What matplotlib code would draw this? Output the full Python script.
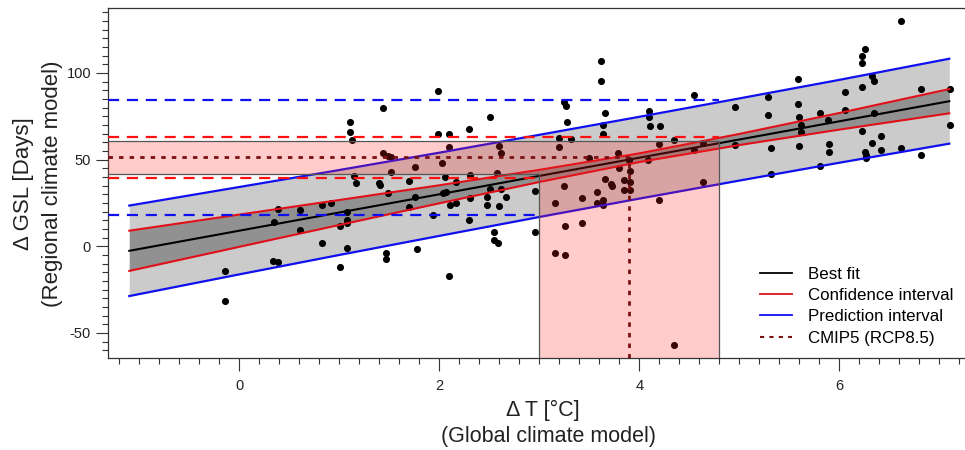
import numpy as np
import matplotlib.pyplot as plt
from matplotlib.lines import Line2D
from matplotlib.ticker import MultipleLocator

plt.rcParams['font.family'] = ['Liberation Sans', 'DejaVu Sans']
plt.rcParams['axes.unicode_minus'] = False

# ----------------------------
# Model runs: global warming vs. change in growing season length
# ----------------------------
dT = [-0.14, -0.14, 0.35, 0.39, 0.34, 0.39, 0.61, 0.61, 0.83, 0.83,
      0.92, 1.01, 1.01, 1.08, 1.08, 1.08, 1.08, 1.11, 1.11, 1.13,
      1.15, 1.17, 1.40, 1.41, 1.44, 1.44, 1.49, 1.52, 1.52, 1.49,
      1.47, 1.47, 1.70, 1.70, 1.76, 1.76, 1.78, 1.94, 1.99, 1.99,
      2.10, 2.10, 2.03, 2.06, 2.04, 2.07, 2.11, 2.17, 2.17, 2.10,
      2.30, 2.31, 2.31, 2.30, 2.48, 2.48, 2.51, 2.51, 2.55, 2.55,
      2.59, 2.58, 2.60, 2.62, 2.60, 2.62, 2.67, 2.96, 2.96, 3.16,
      3.16, 3.20, 3.20, 3.25, 3.27, 3.28, 3.32, 3.25, 3.26, 3.26,
      3.43, 3.43, 3.50, 3.58, 3.58, 3.64, 3.64, 3.62, 3.62, 3.66,
      3.64, 3.64, 3.66, 3.72, 3.73, 3.79, 3.80, 3.85, 3.85, 3.91,
      3.91, 3.91, 3.90, 4.10, 4.10, 4.11, 4.21, 4.20, 4.09, 4.20,
      4.35, 4.35, 4.55, 4.55, 4.64, 4.64, 4.96, 4.96, 5.29, 5.29,
      5.32, 5.32, 5.59, 5.59, 5.60, 5.62, 5.62, 5.60, 5.81, 5.81,
      5.89, 5.90, 5.90, 6.06, 6.06, 6.23, 6.23, 6.23, 6.26, 6.33,
      6.35, 6.35, 6.23, 6.42, 6.33, 6.42, 6.26, 6.27, 6.27, 6.62,
      6.62, 6.82, 6.82, 7.11, 7.11]
dGSL = [-14.1, -31.4, 13.8, 21.8, -8.2, -9.2, 20.8, 9.5, 24.1, 1.8,
        25.2, 11.7, -12.1, 19.5, 15.2, 13.4, -1.0, 71.6, 65.8, 61.5,
        40.6, 36.6, 36.5, 35.6, 79.8, 53.8, 52.3, 51.7, 42.7, 30.6,
        -4.0, -7.4, 37.7, 22.9, 45.8, 28.6, -1.7, 18.1, 89.8, 64.8,
        64.8, 57.3, 47.8, 39.8, 30.9, 31.5, 24.1, 24.8, 37.1, -17.3,
        67.6, 41.0, 27.7, 14.9, 28.2, 23.8, 74.8, 32.9, 8.1, 3.8,
        1.7, 42.1, 57.7, 53.7, 23.1, 32.9, 28.6, 31.7, 8.0, 25.0,
        -4.0, 57.2, 62.6, 83.2, 81.2, 71.9, 61.8, 34.8, 11.8, -5.1,
        27.9, 13.6, 51.1, 31.5, 25.2, 26.7, 24.1, 107.0, 95.6, 76.9,
        69.7, 64.6, 39.0, 35.9, 34.5, 53.8, 45.3, 38.0, 32.7, 32.5,
        43.6, 37.1, 49.8, 78.2, 74.8, 69.6, 69.6, 58.9, 49.8, 26.7,
        61.3, -57.2, 87.1, 55.6, 37.3, 59.4, 80.6, 58.5, 85.9, 75.8,
        56.7, 41.7, 96.5, 81.9, 74.8, 70.0, 65.7, 58.0, 76.9, 46.5,
        72.9, 58.9, 54.6, 89.0, 78.8, 91.7, 105.9, 109.8, 113.7, 98.3,
        95.6, 76.7, 66.7, 63.6, 59.8, 55.7, 54.3, 52.4, 50.8, 129.9,
        56.9, 90.8, 52.8, 90.8, 69.8]

# regression curves sampled along the warming axis
x_fit = [-1.1, 0, 1, 2, 3, 4, 5, 6, 7.1]
best_fit = [-2.6, 9.0, 19.5, 30.0, 40.6, 51.1, 61.6, 72.1, 83.7]
conf_hi = [9.0, 18.3, 26.7, 35.2, 44.1, 53.6, 64.8, 76.9, 90.7]
conf_lo = [-14.2, -0.3, 12.3, 24.8, 37.1, 48.6, 58.4, 67.3, 76.7]
pred_hi = [23.5, 34.2, 44.0, 54.0, 64.3, 74.7, 85.3, 96.0, 108.2]
pred_lo = [-28.7, -16.2, -5.0, 6.0, 16.9, 27.5, 37.9, 48.2, 59.2]

# CMIP5 RCP8.5 warming range and its projection onto GSL
cmip_dT = [3.0, 4.8]
cmip_dT_median = 3.9
gsl_range = [41.9, 60.6]
gsl_median = 51.5
conf_levels = [39.4, 63.2]
pred_levels = [18.2, 84.4]

XMIN, XMAX = -1.316, 7.257
YMIN, YMAX = -64.6, 137.3

RED = "#e0101a"
BLUE = "#1010ee"
DARKRED = "#7a1010"

fig = plt.figure(figsize=(9.65, 4.5), dpi=100)
ax = fig.add_axes([0.1116, 0.2038, 1 - 0.1116, 0.9816 - 0.2038])

# prediction and confidence bands
ax.fill_between(x_fit, pred_lo, pred_hi, color="#cbcbcb", lw=0, zorder=1)
ax.fill_between(x_fit, conf_lo, conf_hi, color="#919191", lw=0, zorder=1.5)

ax.scatter(dT, dGSL, s=26, color="black", lw=0, zorder=3)

ax.plot(x_fit, best_fit, color="black", lw=1.5, zorder=4)
ax.plot(x_fit, conf_hi, color=RED, lw=1.5, zorder=4)
ax.plot(x_fit, conf_lo, color=RED, lw=1.5, zorder=4)
ax.plot(x_fit, pred_hi, color=BLUE, lw=1.6, zorder=4)
ax.plot(x_fit, pred_lo, color=BLUE, lw=1.6, zorder=4)

# horizontal read-off lines
dash = (0, (5, 3.5))
ax.plot([XMIN, cmip_dT[1]], [pred_levels[1]] * 2, color=BLUE, lw=1.6, ls=dash, zorder=4)
ax.plot([XMIN, cmip_dT[0]], [pred_levels[0]] * 2, color=BLUE, lw=1.6, ls=dash, zorder=4)
ax.plot([XMIN, cmip_dT[1]], [conf_levels[1]] * 2, color="#ff1010", lw=1.6, ls=dash, zorder=4)
ax.plot([XMIN, cmip_dT[0]], [conf_levels[0]] * 2, color="#ff1010", lw=1.6, ls=dash, zorder=4)

# CMIP5 shading: horizontal GSL band joined to vertical warming band
shade_x = [XMIN, cmip_dT[1], cmip_dT[1], cmip_dT[0], cmip_dT[0], XMIN]
shade_y = [gsl_range[1], gsl_range[1], YMIN, YMIN, gsl_range[0], gsl_range[0]]
ax.fill(shade_x, shade_y, facecolor=(1.0, 0.12, 0.12, 0.23), edgecolor="none", zorder=5)
ax.plot(shade_x[:3], shade_y[:3], color="#555555", lw=0.9, zorder=6)
ax.plot(shade_x[3:], shade_y[3:], color="#555555", lw=0.9, zorder=6)

dot = (0, (1.6, 2.2))
ax.plot([XMIN, cmip_dT_median], [gsl_median] * 2, color=DARKRED, lw=2, ls=dot, zorder=6)
ax.plot([cmip_dT_median] * 2, [YMIN, gsl_median], color=DARKRED, lw=2, ls=dot, zorder=6)

ax.set_xlim(XMIN, XMAX)
ax.set_ylim(YMIN, YMAX)
ax.xaxis.set_major_locator(MultipleLocator(2))
ax.xaxis.set_minor_locator(MultipleLocator(0.2))
ax.yaxis.set_major_locator(MultipleLocator(50))
ax.yaxis.set_minor_locator(MultipleLocator(5))
ax.tick_params(which="major", length=9, width=0.8, color="#333333",
               labelsize=10.5, labelcolor="#222222")
ax.tick_params(which="minor", length=4, width=0.8, color="#333333")
ax.tick_params(axis="x", which="major", pad=6)
ax.tick_params(axis="y", which="major", pad=3)
ax.spines["right"].set_visible(False)
for s in ["left", "bottom", "top"]:
    ax.spines[s].set_linewidth(0.9)
    ax.spines[s].set_color("#333333")

fig.text(0.562, 0.089, "Δ T [°C]", ha="center", va="center", fontsize=15.5, color="#222222")
fig.text(0.568, 0.029, "(Global climate model)", ha="center", va="center", fontsize=15.5, color="#222222")
fig.text(0.024, 0.593, "Δ GSL [Days]", ha="center", va="center", rotation=90, fontsize=16, color="#222222")
fig.text(0.054, 0.591, "(Regional climate model)", ha="center", va="center", rotation=90, fontsize=16, color="#222222")

handles = [
    Line2D([], [], color="black", lw=1.3),
    Line2D([], [], color=RED, lw=1.3),
    Line2D([], [], color=BLUE, lw=1.3),
    Line2D([], [], color=DARKRED, lw=1.5, ls=(0, (2, 2.5))),
]
labels = ["Best fit", "Confidence interval", "Prediction interval", "CMIP5 (RCP8.5)"]
ax.legend(handles, labels, loc="lower left", bbox_to_anchor=(0.7525, 0.017),
          frameon=False, fontsize=12.2, handlelength=1.9, handletextpad=0.95,
          labelspacing=0.37, borderaxespad=0.0)

fig.savefig("out.png", dpi=100)
